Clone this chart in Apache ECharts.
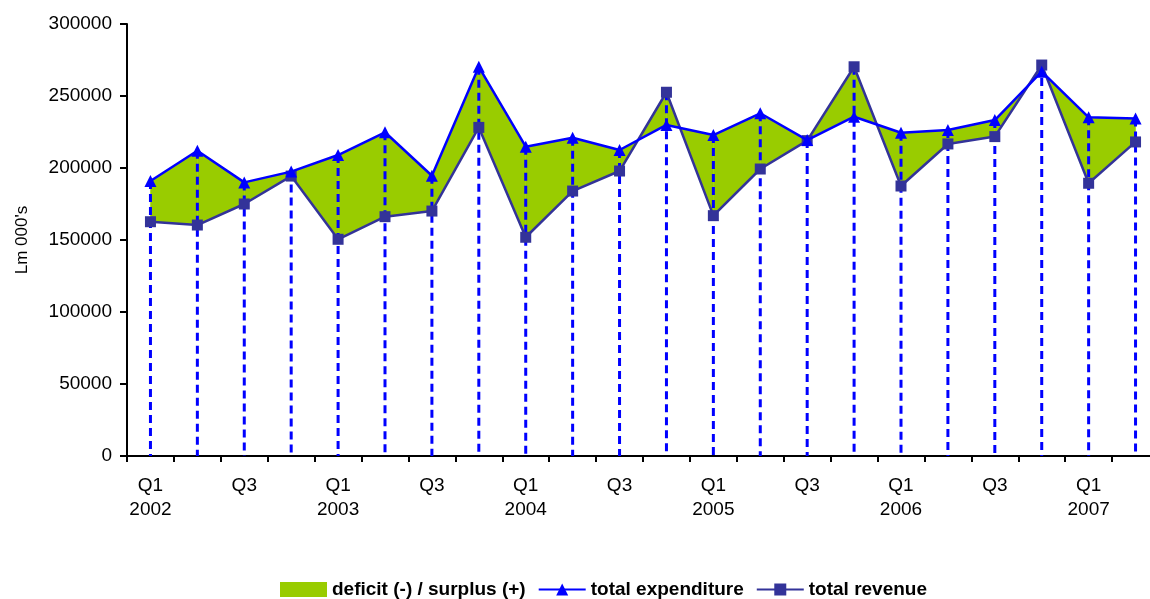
<!DOCTYPE html>
<html>
<head>
<meta charset="utf-8">
<script src="https://cdn.jsdelivr.net/npm/echarts@6/dist/echarts.min.js"></script>
<style>
html,body{margin:0;padding:0;background:#fff;}
#chart{width:1150px;height:599px;}
</style>
</head>
<body>
<div id="chart"></div>
<script>
const categories = ['Q1\n2002','','Q3','','Q1\n2003','','Q3','','Q1\n2004','','Q3','','Q1\n2005','','Q3','','Q1\n2006','','Q3','','Q1\n2007',''];
const expenditure = [191000,212000,190000,197500,209000,224800,194600,270300,214800,221000,212500,229900,222900,238000,219400,235600,224500,226400,233300,266900,235200,234300];
const revenue = [162700,160400,175000,194400,150500,166200,170100,228200,151900,184000,197900,252600,166900,199300,219000,270300,187500,216700,221800,271500,189400,218100];
const yTicks = {min:0, max:300000, interval:50000};

const FONT = '"Liberation Sans", Arial, sans-serif';
const areaData = [];
for (let i = 0; i < categories.length - 1; i++) {
  areaData.push([i, expenditure[i], revenue[i], expenditure[i+1], revenue[i+1]]);
}
const dropData = categories.map((c, i) => [i, Math.max(expenditure[i], revenue[i])]);

const chart = echarts.init(document.getElementById('chart'));
chart.setOption({
  backgroundColor:'#fff',
  animation:false,
  grid:{left:127, top:24, width:1032, height:432, outerBoundsMode:'none', containLabel:false},
  legend:{
    top:575, left:275,
    itemWidth:47, itemHeight:15, itemGap:12,
    textStyle:{fontFamily:FONT, fontSize:19, fontWeight:'bold', color:'#000'},
    data:[{name:'deficit (-) / surplus (+)', icon:'rect'}, 'total expenditure', 'total revenue']
  },
  xAxis:{
    type:'category', data:categories, boundaryGap:true,
    axisLine:{lineStyle:{color:'#000', width:2}},
    axisTick:{show:true, length:6, interval:0, lineStyle:{color:'#000', width:2}},
    axisLabel:{interval:0, margin:18, fontFamily:FONT, fontSize:19, color:'#000', lineHeight:24},
    splitLine:{show:false}
  },
  yAxis:{
    type:'value', min:yTicks.min, max:yTicks.max, interval:yTicks.interval,
    name:"Lm 000's", nameLocation:'middle', nameGap:96, nameRotate:90,
    nameTextStyle:{fontFamily:FONT, fontSize:17, color:'#000'},
    axisLine:{show:true, lineStyle:{color:'#000', width:2}},
    axisTick:{show:true, length:7, lineStyle:{color:'#000', width:2}},
    axisLabel:{margin:15, fontFamily:FONT, fontSize:19, color:'#000', formatter:function(v){return String(v);}},
    splitLine:{show:false}
  },
  series:[
    {
      name:'deficit (-) / surplus (+)', type:'custom', z:1,
      itemStyle:{color:'#99CC00'},
      encode:{x:0, y:[1,2,3,4]},
      data:areaData,
      renderItem:function(params, api){
        const i = api.value(0);
        const p0 = api.coord([i, api.value(1)]);
        const p1 = api.coord([i+1, api.value(3)]);
        const p2 = api.coord([i+1, api.value(4)]);
        const p3 = api.coord([i, api.value(2)]);
        return {type:'polygon', shape:{points:[p0,p1,p2,p3]}, style:{fill:'#99CC00', stroke:'#99CC00', lineWidth:0.5}};
      }
    },
    {
      name:'drop', type:'custom', z:2,
      encode:{x:0, y:1},
      data:dropData,
      renderItem:function(params, api){
        const i = api.value(0);
        const a = api.coord([i, api.value(1)]);
        const b = api.coord([i, 0]);
        return {type:'line', shape:{x1:a[0], y1:a[1], x2:b[0], y2:b[1]}, style:{stroke:'#0000FF', lineWidth:3, lineDash:[8,5]}};
      }
    },
    {
      name:'total revenue', type:'line', z:3, data:revenue,
      symbol:'rect', symbolSize:11,
      lineStyle:{color:'#333399', width:2.5},
      itemStyle:{color:'#333399'}
    },
    {
      name:'total expenditure', type:'line', z:4, data:expenditure,
      symbol:'triangle', symbolSize:12,
      lineStyle:{color:'#0000FF', width:2.5},
      itemStyle:{color:'#0000FF'}
    }
  ]
});
</script>
</body>
</html>
